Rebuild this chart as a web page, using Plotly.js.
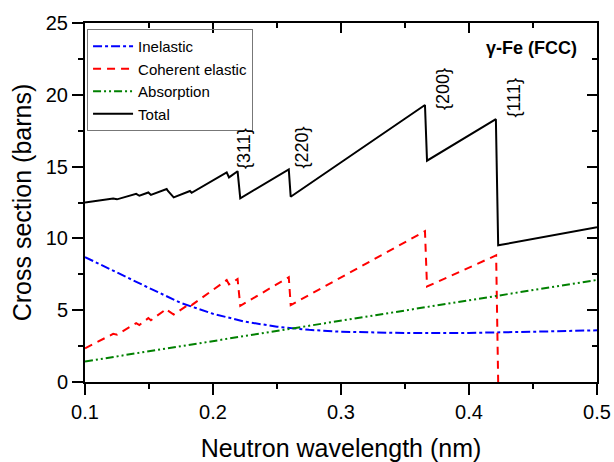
<!DOCTYPE html>
<html>
<head>
<meta charset="utf-8">
<script src="https://cdn.plot.ly/plotly-3.0.1.min.js"></script>
<style>html,body{margin:0;padding:0;background:#fff;}#chart{width:614px;height:462px;}</style>
</head>
<body>
<div id="chart"></div>
<script>
// Neutron wavelength (nm) and cross sections (barns)
const totalX = [0.100, 0.122, 0.125, 0.140, 0.1425, 0.1495, 0.1515, 0.1638, 0.1648, 0.1693, 0.182, 0.1833, 0.2107, 0.2125, 0.2192, 0.2213, 0.2592, 0.2607, 0.3656, 0.3672, 0.4210, 0.4228, 0.500];
const totalY = [12.5, 12.78, 12.72, 13.1, 12.97, 13.2, 13.03, 13.44, 13.3, 12.86, 13.3, 13.18, 14.6, 14.25, 14.68, 12.79, 14.81, 12.9, 19.29, 15.41, 18.3, 9.52, 10.77];

const cohX = [0.100, 0.122, 0.125, 0.140, 0.1425, 0.1495, 0.1515, 0.1638, 0.1648, 0.1693, 0.182, 0.1833, 0.2107, 0.2125, 0.2192, 0.2213, 0.2592, 0.2607, 0.3656, 0.3672, 0.4212, 0.4228];
const cohY = [2.35, 3.35, 3.3, 4.1, 3.97, 4.45, 4.3, 5.1, 4.97, 4.7, 5.45, 5.35, 7.1, 6.8, 7.17, 5.3, 7.3, 5.35, 10.5, 6.65, 8.82, 0];

const inelX = [0.100, 0.125, 0.150, 0.175, 0.200, 0.225, 0.250, 0.275, 0.300, 0.350, 0.400, 0.450, 0.500];
const inelY = [8.7, 7.6, 6.55, 5.5, 4.75, 4.2, 3.85, 3.63, 3.5, 3.41, 3.42, 3.5, 3.6];

const absX = [0.1, 0.2, 0.3, 0.4, 0.5];
const absY = [1.43, 2.85, 4.27, 5.69, 7.11];

const reflLabels = ['{311}', '{220}', '{200}', '{111}'];
const reflX = [0.2242, 0.2699, 0.3801, 0.4355];
const reflY = [16.3, 16.36, 20.37, 19.78];

const FONT = '"Liberation Sans", Arial, Helvetica, sans-serif';

const traces = [
  {x: inelX, y: inelY, name: 'Inelastic', mode: 'lines', line: {color: '#0000ff', width: 2, dash: '9px,3px,3px,3px'}},
  {x: cohX, y: cohY, name: 'Coherent elastic', mode: 'lines', line: {color: '#ff0000', width: 2, dash: '8px,6px'}},
  {x: absX, y: absY, name: 'Absorption', mode: 'lines', line: {color: '#008000', width: 2, dash: '8px,3px,2px,3px,2px,3px'}},
  {x: totalX, y: totalY, name: 'Total', mode: 'lines', line: {color: '#000000', width: 2}},
  // invisible trace to activate the mirror axes
  {x: [0.1, 0.5], y: [0, 25], xaxis: 'x2', yaxis: 'y2', mode: 'markers', marker: {opacity: 0}, showlegend: false, hoverinfo: 'skip'}
];

const annotations = reflLabels.map((t, i) => ({
  x: reflX[i], y: reflY[i], xref: 'x', yref: 'y', text: t, showarrow: false,
  textangle: -90, font: {family: FONT, size: 18, color: '#000'}
}));
annotations.push({
  x: 0.965, y: 0.93, xref: 'paper', yref: 'paper', xanchor: 'right', yanchor: 'middle',
  text: '<b>γ-Fe (FCC)</b>', showarrow: false, font: {family: FONT, size: 18, color: '#000'}
});

const layout = {
  width: 614, height: 462,
  margin: {l: 85, r: 17, t: 23, b: 80},
  paper_bgcolor: '#fff', plot_bgcolor: '#fff',
  font: {family: FONT, color: '#000'},
  showlegend: true,
  legend: {
    x: 0.004, y: 0.983, xanchor: 'left', yanchor: 'top',
    bgcolor: 'rgba(255,255,255,0)', bordercolor: '#777', borderwidth: 1,
    font: {family: FONT, size: 15, color: '#000'}, itemwidth: 40, tracegroupgap: 0
  },
  xaxis: {
    range: [0.1, 0.5], dtick: 0.1, tick0: 0.1, tickformat: '.1f',
    showgrid: false, zeroline: false, showline: true, linecolor: '#000', linewidth: 2,
    ticks: 'outside', ticklen: 11, tickwidth: 2, tickcolor: '#000',
    minor: {ticks: 'outside', ticklen: 5, tickwidth: 2, dtick: 0.05, tickcolor: '#000', showgrid: false},
    tickfont: {family: FONT, size: 20, color: '#000'},
    title: {text: 'Neutron wavelength (nm)', font: {family: FONT, size: 25, color: '#000'}, standoff: 20}
  },
  yaxis: {
    range: [0, 25], dtick: 5, tick0: 0,
    showgrid: false, zeroline: false, showline: true, linecolor: '#000', linewidth: 2,
    ticks: 'outside', ticklen: 11, tickwidth: 2, tickcolor: '#000',
    minor: {ticks: 'outside', ticklen: 5, tickwidth: 2, dtick: 2.5, tickcolor: '#000', showgrid: false},
    tickfont: {family: FONT, size: 20, color: '#000'},
    title: {text: 'Cross section (barns)', font: {family: FONT, size: 25, color: '#000'}, standoff: 7}
  },
  xaxis2: {
    overlaying: 'x', side: 'top', anchor: 'y', range: [0.1, 0.5], dtick: 0.1, tick0: 0.1,
    showgrid: false, zeroline: false, showline: true, linecolor: '#000', linewidth: 2,
    ticks: 'inside', ticklen: 10, tickwidth: 2, tickcolor: '#000', showticklabels: false,
    minor: {ticks: 'inside', ticklen: 5, tickwidth: 2, dtick: 0.05, tickcolor: '#000', showgrid: false}
  },
  yaxis2: {
    overlaying: 'y', side: 'right', anchor: 'x', range: [0, 25], dtick: 5, tick0: 0,
    showgrid: false, zeroline: false, showline: true, linecolor: '#000', linewidth: 2,
    ticks: 'inside', ticklen: 10, tickwidth: 2, tickcolor: '#000', showticklabels: false,
    minor: {ticks: 'inside', ticklen: 5, tickwidth: 2, dtick: 2.5, tickcolor: '#000', showgrid: false}
  },
  annotations: annotations
};

Plotly.newPlot('chart', traces, layout, {displayModeBar: false, staticPlot: true});
</script>
</body>
</html>
